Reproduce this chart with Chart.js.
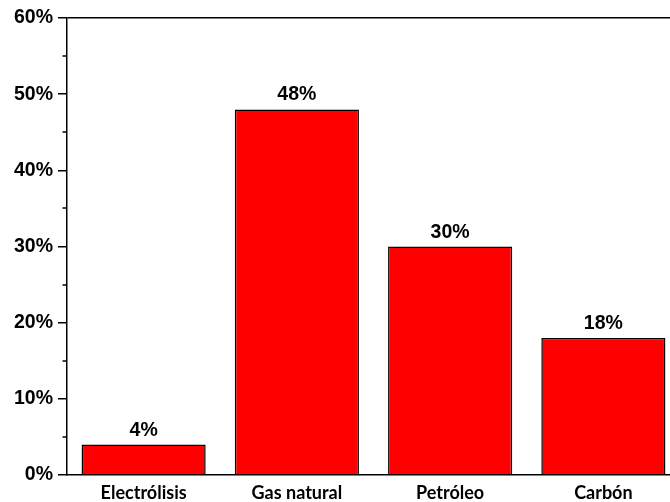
<!DOCTYPE html>
<html>
<head>
<meta charset="utf-8">
<script src="https://cdn.jsdelivr.net/npm/chart.js@4"></script>
<style>
  html, body { margin: 0; padding: 0; background: #fff; overflow: hidden; }
  #wrap { width: 680px; height: 502px; }
</style>
</head>
<body>
<div id="wrap"><canvas id="chart"></canvas></div>
<script>
const categories = ["Electrólisis", "Gas natural", "Petróleo", "Carbón"];
const shares = [4, 48, 30, 18];
const yTicks = [0, 10, 20, 30, 40, 50, 60];

// value labels above each bar
const barLabels = {
  id: "barLabels",
  afterDatasetsDraw(chart) {
    const ctx = chart.ctx;
    const meta = chart.getDatasetMeta(0);
    ctx.save();
    ctx.font = "bold 19.5px 'Liberation Sans', Arial, sans-serif";
    ctx.fillStyle = "#000";
    ctx.textAlign = "center";
    ctx.textBaseline = "alphabetic";
    meta.data.forEach((bar, i) => {
      ctx.fillText(shares[i] + "%", bar.x, bar.y - 9);
    });
    ctx.restore();
  }
};

// short minor ticks halfway between the labelled ones
const minorTicks = {
  id: "minorTicks",
  afterDraw(chart) {
    const y = chart.scales.y;
    const ctx = chart.ctx;
    ctx.save();
    ctx.strokeStyle = "#000";
    ctx.lineWidth = 1.5;
    for (let i = 0; i < yTicks.length - 1; i++) {
      const py = Math.round(y.getPixelForValue((yTicks[i] + yTicks[i + 1]) / 2));
      ctx.beginPath();
      ctx.moveTo(y.right - 4.5, py);
      ctx.lineTo(y.right, py);
      ctx.stroke();
    }
    ctx.restore();
  }
};

new Chart(document.getElementById("chart"), {
  type: "bar",
  data: {
    labels: categories,
    datasets: [{
      data: shares,
      backgroundColor: "#ff0000",
      borderColor: "#000",
      borderWidth: 1.5,
      borderSkipped: "bottom",
      categoryPercentage: 1,
      barPercentage: 0.81
    }]
  },
  options: {
    responsive: true,
    maintainAspectRatio: false,
    animation: false,
    layout: { padding: { top: 18, left: 0, right: 0, bottom: 0 } },
    plugins: {
      legend: { display: false },
      tooltip: { enabled: false }
    },
    scales: {
      x: {
        grid: { display: false, drawTicks: false },
        border: { color: "#000", width: 1.5 },
        ticks: {
          color: "#000",
          padding: 7,
          font: { family: "Lato, 'Open Sans', sans-serif", weight: "bold", size: 18 }
        },
        afterFit(scale) { scale.height = 27; }
      },
      y: {
        min: 0,
        max: 60,
        afterBuildTicks(scale) { scale.ticks = yTicks.map(v => ({ value: v })); },
        grid: {
          drawOnChartArea: true,
          color: c => (c.tick && c.tick.value === 60 ? "#000" : "rgba(0,0,0,0)"),
          lineWidth: 1.5,
          tickColor: "#000",
          tickLength: 9
        },
        border: { color: "#000", width: 1.5 },
        ticks: {
          color: "#000",
          padding: 5,
          callback: v => v + "%",
          font: { family: "'Liberation Sans', Arial, sans-serif", weight: "bold", size: 19.5 }
        },
        afterFit(scale) { scale.width = 67; }
      }
    }
  },
  plugins: [barLabels, minorTicks]
});
</script>
</body>
</html>
